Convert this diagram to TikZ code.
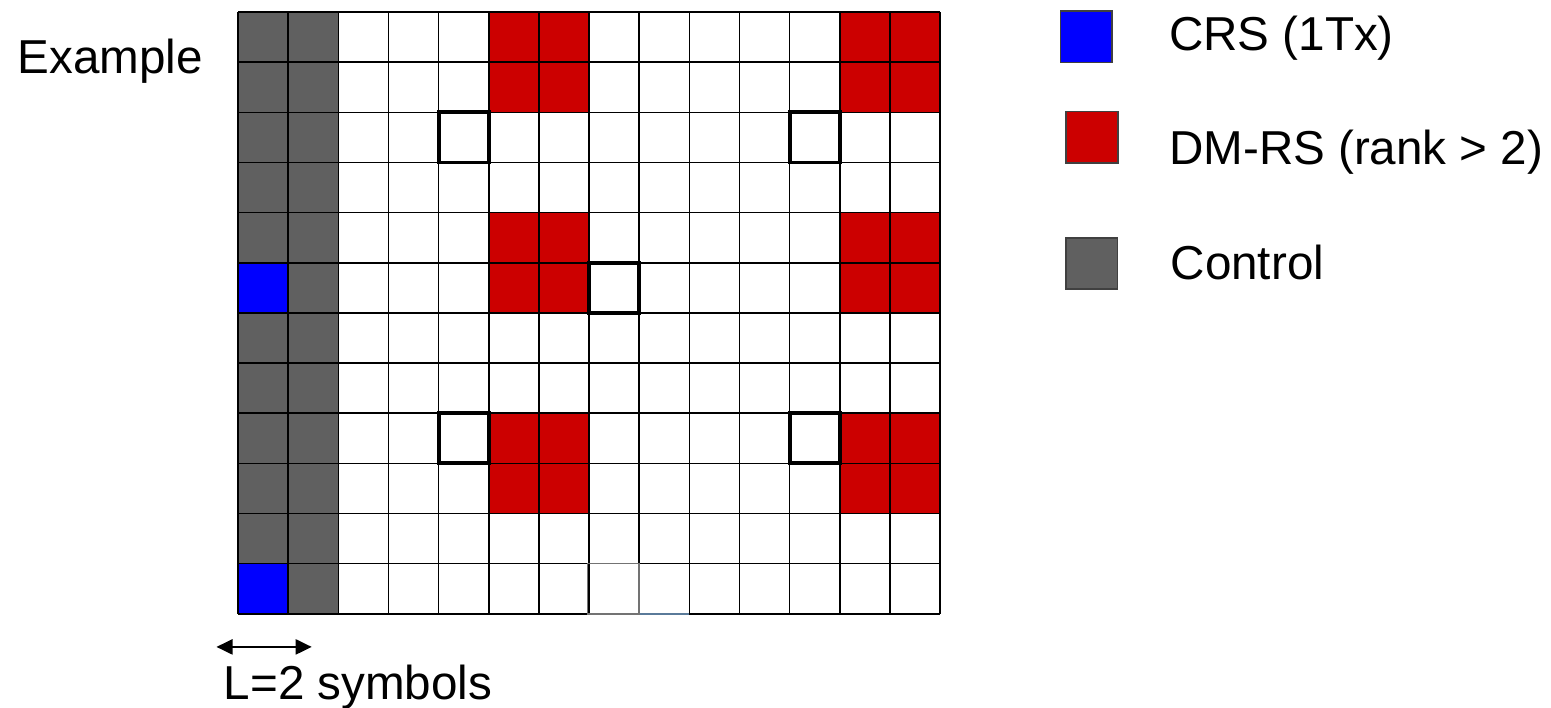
\documentclass[tikz,border=0pt]{standalone}
\usepackage{fontspec}
\setmainfont{Liberation Sans}
\usetikzlibrary{arrows.meta}
\definecolor{ctrlgray}{HTML}{606060}
\definecolor{dmrsred}{HTML}{CC0000}
\definecolor{crsblue}{HTML}{0000FF}
\definecolor{edgeblue}{HTML}{5A7A99}

\begin{document}
\begin{tikzpicture}[x=0.5cm, y=0.5cm, line width=0.45pt,
    lbl/.style={inner sep=0pt, anchor=base west, font=\fontsize{13.5}{16}\selectfont},
    legbox/.style={draw=black!75, line width=0.5pt, minimum size=0.515cm, inner sep=0pt}]
        \useasboundingbox (-4.746,0.239) rectangle (26.18,-13.86);

        \coordinate (arrL) at (-0.43,-12.66);
        \coordinate (arrR) at (1.47,-12.66);

        \fill[ctrlgray] (0,0) rectangle (2,-12);
        \foreach \r in {5, 11}
        \fill[crsblue] (0,-\r) rectangle (1,-\r-1);
        \foreach \c/\r in {5/0, 12/0, 5/4, 12/4, 5/8, 12/8}
        \fill[dmrsred] (\c,-\r) rectangle (\c+2,-\r-2);

        \draw[step=0.5cm] (0,-12) grid (14,0);
        \foreach \c/\r in {4/2, 11/2, 7/5, 4/8, 11/8}
        \draw[line width=1.1pt] (\c,-\r) rectangle (\c+1,-\r-1);
        \draw[black!55] (6.97,-11) rectangle (8,-12);
        \draw[edgeblue, line width=0.6pt] (8.02,-12) -- (9,-12);

        \node[lbl] (example) at (-4.41,-1.217) {Example};

        \node[legbox, fill=crsblue] (crsbox) at (16.915,-0.49) {};
        \node[legbox, fill=dmrsred] (dmrsbox) at (17.025,-2.5) {};
        \node[legbox, fill=ctrlgray] (ctrlbox) at (17.02,-5.015) {};
        \node[lbl] (crs) at (18.55,-0.76) {CRS (1Tx)};
        \node[lbl] (dmrs) at (18.55,-3.05) {DM-RS (rank > 2)};
        \node[lbl] (ctrl) at (18.58,-5.34) {Control};

        \draw[{Triangle[length=1.6mm,width=1.5mm]}-{Triangle[length=1.6mm,width=1.5mm]}, line width=0.6pt] (arrL) -- (arrR);
        \node[lbl] (span) at (-0.3,-13.70) {L=2 symbols};
    \end{tikzpicture}
\end{document}
